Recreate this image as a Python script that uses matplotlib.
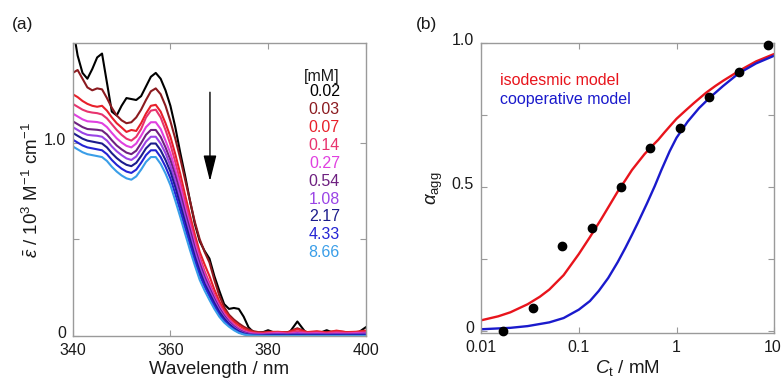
import matplotlib
matplotlib.use('Agg')
import matplotlib.pyplot as plt
import matplotlib.transforms as mtransforms

plt.rcParams['font.family'] = ['Liberation Sans', 'DejaVu Sans']
plt.rcParams['mathtext.fontset'] = 'custom'
plt.rcParams['mathtext.rm'] = 'Liberation Sans'
plt.rcParams['mathtext.it'] = 'Liberation Sans:italic'

# ---- (a) spectra ----
wl = [340, 341, 342, 343, 344, 345, 346, 347, 348, 349, 350, 351, 352, 353, 354, 355, 356, 357, 358, 359,
      360, 361, 362, 363, 364, 365, 366, 367, 368, 369, 370, 371, 372, 373, 374, 375, 376, 377, 378, 379,
      380, 382, 384, 386, 388, 390, 392, 394, 396, 398, 400]

eps_002 = [1.60, 1.45, 1.36, 1.33, 1.38, 1.44, 1.46, 1.31, 1.16, 1.14, 1.19, 1.23, 1.225, 1.22, 1.24, 1.29, 1.34, 1.36, 1.33, 1.27,
           1.19, 1.08, 0.95, 0.83, 0.70, 0.58, 0.49, 0.44, 0.40, 0.31, 0.235, 0.165, 0.14, 0.145, 0.14, 0.10, 0.045, 0.02, 0.015, 0.02,
           0.03, 0.01, 0.005, 0.075, 0.008, 0.01, 0.03, 0.01, 0.015, 0.01, 0.045]
eps_003 = [1.36, 1.375, 1.33, 1.285, 1.27, 1.28, 1.275, 1.23, 1.18, 1.14, 1.115, 1.10, 1.105, 1.13, 1.17, 1.22, 1.265, 1.28, 1.25, 1.19,
           1.11, 1.02, 0.92, 0.81, 0.70, 0.59, 0.50, 0.435, 0.38, 0.29, 0.21, 0.15, 0.11, 0.085, 0.065, 0.048, 0.035, 0.025, 0.02, 0.02,
           0.022, 0.02, 0.02, 0.04, 0.02, 0.02, 0.02, 0.025, 0.02, 0.02, 0.025]
eps_007 = [1.25, 1.235, 1.215, 1.20, 1.19, 1.185, 1.19, 1.165, 1.13, 1.10, 1.078, 1.055, 1.065, 1.06, 1.10, 1.15, 1.19, 1.195, 1.16, 1.10,
           1.03, 0.94, 0.84, 0.73, 0.625, 0.525, 0.435, 0.37, 0.31, 0.24, 0.18, 0.135, 0.10, 0.075, 0.055, 0.04, 0.028, 0.02, 0.017, 0.016,
           0.02, 0.022, 0.018, 0.035, 0.02, 0.025, 0.018, 0.028, 0.02, 0.022, 0.028]
eps_014 = [1.20, 1.185, 1.17, 1.16, 1.155, 1.152, 1.145, 1.125, 1.095, 1.065, 1.04, 1.02, 1.01, 1.03, 1.07, 1.13, 1.165, 1.17, 1.13, 1.065,
           0.99, 0.90, 0.80, 0.695, 0.595, 0.50, 0.41, 0.335, 0.275, 0.215, 0.163, 0.12, 0.088, 0.062, 0.042, 0.03, 0.021, 0.016, 0.014, 0.013,
           0.015, 0.018, 0.014, 0.025, 0.016, 0.018, 0.014, 0.02, 0.015, 0.017, 0.02]
eps_027 = [1.15, 1.135, 1.12, 1.11, 1.108, 1.106, 1.10, 1.08, 1.05, 1.022, 1.0, 0.983, 0.975, 0.995, 1.035, 1.08, 1.105, 1.105, 1.07, 1.01,
           0.945, 0.86, 0.77, 0.665, 0.57, 0.475, 0.39, 0.318, 0.26, 0.203, 0.153, 0.112, 0.08, 0.055, 0.036, 0.024, 0.016, 0.012, 0.01, 0.01,
           0.012, 0.014, 0.011, 0.016, 0.012, 0.014, 0.011, 0.013, 0.012, 0.014, 0.015]
eps_054 = [1.11, 1.095, 1.08, 1.07, 1.068, 1.066, 1.062, 1.042, 1.012, 0.985, 0.965, 0.948, 0.94, 0.958, 0.997, 1.04, 1.065, 1.065, 1.03, 0.975,
           0.91, 0.83, 0.74, 0.64, 0.55, 0.455, 0.375, 0.305, 0.248, 0.193, 0.145, 0.105, 0.074, 0.05, 0.032, 0.02, 0.012, 0.008, 0.007, 0.007,
           0.008, 0.01, 0.008, 0.012, 0.009, 0.01, 0.008, 0.01, 0.009, 0.01, 0.012]
eps_108 = [1.08, 1.065, 1.05, 1.04, 1.037, 1.035, 1.03, 1.01, 0.98, 0.955, 0.935, 0.918, 0.91, 0.928, 0.965, 1.005, 1.03, 1.03, 0.995, 0.945,
           0.88, 0.80, 0.71, 0.615, 0.525, 0.435, 0.355, 0.29, 0.235, 0.182, 0.135, 0.097, 0.068, 0.045, 0.028, 0.016, 0.009, 0.006, 0.005, 0.005,
           0.006, 0.008, 0.006, 0.009, 0.007, 0.008, 0.006, 0.008, 0.007, 0.008, 0.009]
eps_217 = [1.05, 1.035, 1.02, 1.01, 1.005, 1.0, 0.995, 0.975, 0.945, 0.92, 0.90, 0.885, 0.878, 0.895, 0.93, 0.97, 0.995, 0.995, 0.96, 0.91,
           0.85, 0.77, 0.68, 0.59, 0.50, 0.41, 0.335, 0.27, 0.22, 0.17, 0.125, 0.09, 0.062, 0.04, 0.024, 0.013, 0.007, 0.004, 0.003, 0.003,
           0.004, 0.005, 0.004, 0.006, 0.004, 0.005, 0.004, 0.005, 0.004, 0.005, 0.006]
eps_433 = [1.015, 1.0, 0.985, 0.975, 0.97, 0.965, 0.96, 0.94, 0.91, 0.885, 0.865, 0.85, 0.843, 0.86, 0.895, 0.935, 0.96, 0.96, 0.925, 0.875,
           0.815, 0.735, 0.65, 0.56, 0.475, 0.39, 0.315, 0.255, 0.205, 0.155, 0.113, 0.08, 0.055, 0.035, 0.02, 0.01, 0.005, 0.003, 0.002, 0.001,
           0.002, 0.003, 0.002, 0.003, 0.002, 0.003, 0.002, 0.003, 0.002, 0.003, 0.003]
eps_866 = [0.98, 0.965, 0.95, 0.94, 0.935, 0.93, 0.925, 0.905, 0.875, 0.85, 0.83, 0.815, 0.808, 0.825, 0.86, 0.90, 0.925, 0.925, 0.89, 0.84,
           0.78, 0.70, 0.617, 0.53, 0.445, 0.365, 0.29, 0.235, 0.186, 0.14, 0.10, 0.07, 0.048, 0.03, 0.016, 0.008, 0.004, 0.002, 0.001, 0.0,
           0.0, 0.0, 0.0, 0.0, 0.0, 0.0, 0.0, 0.0, 0.0, 0.0, 0.0]

spectra = [eps_002, eps_003, eps_007, eps_014, eps_027, eps_054, eps_108, eps_217, eps_433, eps_866]
conc_labels = ['0.02', '0.03', '0.07', '0.14', '0.27', '0.54', '1.08', '2.17', '4.33', '8.66']
colors = ['#000000', '#8b1a1f', '#e8202a', '#e8336e', '#e040e0', '#6e2080',
          '#9a44e6', '#1c1c8c', '#2424d4', '#3a9ee8']

# ---- (b) degree of aggregation ----
ct = [0.0169, 0.0338, 0.0677, 0.135, 0.271, 0.541, 1.08, 2.17, 4.33, 8.66]
alpha = [0.0, 0.08, 0.297, 0.358, 0.502, 0.637, 0.707, 0.814, 0.901, 0.994]

iso_c = [0.01, 0.015, 0.02, 0.03, 0.04, 0.05, 0.07, 0.1, 0.13, 0.17, 0.2, 0.25, 0.3, 0.35, 0.4, 0.47, 0.55,
         0.65, 0.75, 0.87, 1.0, 1.25, 1.5, 2.0, 2.5, 3.0, 4.5, 6.5, 10]
iso_a = [0.038, 0.052, 0.066, 0.094, 0.12, 0.145, 0.195, 0.268, 0.327, 0.39, 0.43, 0.485, 0.525, 0.56, 0.585, 0.615, 0.64,
         0.665, 0.69, 0.715, 0.738, 0.768, 0.792, 0.828, 0.852, 0.87, 0.907, 0.937, 0.963]

coop_c = [0.01, 0.02, 0.03, 0.05, 0.07, 0.1, 0.13, 0.16, 0.2, 0.25, 0.3, 0.35, 0.4, 0.5, 0.6, 0.7, 0.85, 1.0,
          1.3, 1.7, 2.2, 3.0, 4.3, 6.5, 10]
coop_a = [0.007, 0.012, 0.018, 0.031, 0.046, 0.075, 0.105, 0.14, 0.185, 0.24, 0.29, 0.335, 0.375, 0.445, 0.505,
          0.56, 0.625, 0.672, 0.728, 0.775, 0.812, 0.852, 0.895, 0.93, 0.957]

gray = '#9a9a9a'
txt = '#1a1a1a'

fig = plt.figure(figsize=(7.83, 3.78), dpi=100)
ax1 = fig.add_axes([0.0929, 0.1111, 0.3742, 0.7743])
ax2 = fig.add_axes([0.6143, 0.119, 0.3746, 0.7665])

for ax in (ax1, ax2):
    for s in ax.spines.values():
        s.set_color(gray)
        s.set_linewidth(1)
    ax.tick_params(which='both', direction='in', top=True, right=True, length=4, width=0.8,
                   color=gray, labelsize=11.5, labelcolor=txt, pad=5)

# panel (a)
for y, c in zip(spectra, colors):
    ax1.plot(wl, y, color=c, lw=1.5)
ax1.set_xlim(340, 400)
ax1.set_ylim(0, 1.513)
ax1.set_xticks([340, 360, 380, 400])
ax1.set_yticks([0, 0.5, 1.0])
ax1.set_yticklabels(['0', '', '1.0'])
ax1.set_xlabel('Wavelength / nm', fontsize=13.5, color=txt, labelpad=2)
ax1.set_ylabel(r'$\bar{\varepsilon}$ / 10$^3$ M$^{-1}$ cm$^{-1}$', fontsize=13.5, color=txt)
ax1.yaxis.set_label_coords(-0.105, 0.5)
ax1.annotate('', xy=(368.1, 0.80), xytext=(368.1, 1.26),
             arrowprops=dict(arrowstyle='-|>,head_length=0.8,head_width=0.2', mutation_scale=20,
                             color='k', lw=1, shrinkA=0, shrinkB=0))
ax1.text(0.912, 0.888, '[mM]', transform=ax1.transAxes, ha='right', va='center', fontsize=11.5, color=txt)
for i, (lab, c) in enumerate(zip(conc_labels, colors)):
    ax1.text(0.912, 0.835 - i * 0.0612, lab, transform=ax1.transAxes,
             ha='right', va='center', fontsize=11.5, color=c)
fig.text(0.015, 0.935, '(a)', fontsize=12.5, color=txt, va='center')

# panel (b)
ax2.semilogx(iso_c, iso_a, color='#e8141c', lw=1.7)
ax2.semilogx(coop_c, coop_a, color='#1a1acc', lw=1.7)
ax2.plot(ct, alpha, 'o', color='k', ms=6, clip_on=False, zorder=5)
ax2.set_xlim(0.01, 10)
ax2.set_ylim(-0.006, 1.0)
ax2.set_xticks([0.01, 0.1, 1, 10])
ax2.set_xticklabels(['0.01', '0.1', '1', '10'])
ax2.minorticks_off()
ax2.set_yticks([0, 0.5, 1.0])
ax2.set_yticklabels(['0', '0.5', '1.0'])
ax2.set_yticks([0.25, 0.75], minor=True)
ax2.set_xlabel(r'$C_{\rm t}$ / mM', fontsize=13.5, color=txt, labelpad=2)
ax2.set_ylabel(r'$\alpha_{\rm agg}$', fontsize=13.5, color=txt)
ax2.yaxis.set_label_coords(-0.123, 0.5)
ax2.text(0.065, 0.87, 'isodesmic model', transform=ax2.transAxes, fontsize=11.5, color='#e8141c', va='center')
ax2.text(0.065, 0.805, 'cooperative model', transform=ax2.transAxes, fontsize=11.5, color='#1a1acc', va='center')
fig.text(0.531, 0.935, '(b)', fontsize=12.5, color=txt, va='center')

# y tick labels sit a little high in the original
up = mtransforms.ScaledTranslation(0, 4 / 100, fig.dpi_scale_trans)
for ax in (ax1, ax2):
    for lab in ax.get_yticklabels():
        lab.set_transform(lab.get_transform() + up)
left = mtransforms.ScaledTranslation(-2 / 100, 0, fig.dpi_scale_trans)
last = ax2.get_xticklabels()[-1]
last.set_transform(last.get_transform() + left)

fig.savefig('out.png', dpi=100)
